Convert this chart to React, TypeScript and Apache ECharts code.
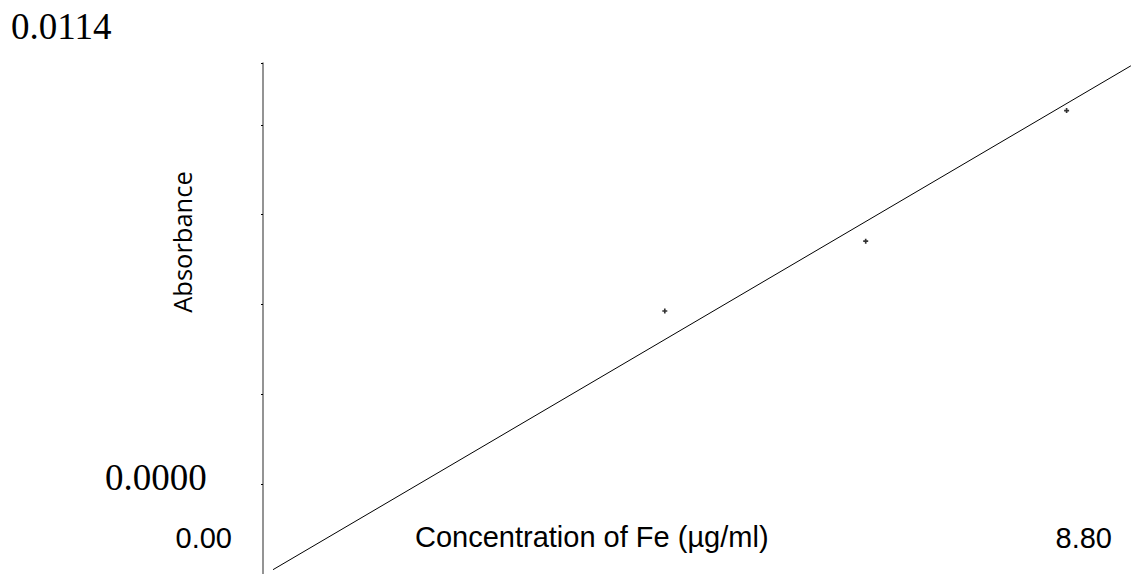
import React, { useEffect, useRef } from "react";
import * as echarts from "echarts";

// Data (concentration of Fe in µg/ml, absorbance)
const concentrations = [4, 6, 8];
const absorbances = [0.004395, 0.006169, 0.009483];
// Calibration line end points as drawn
const fitX = [0.1, 8.64];
const fitY = [-0.00217, 0.01062];
// Axis range labels
const yMaxLabel = "0.0114";
const yMinLabel = "0.0000";
const xMinLabel = "0.00";
const xMaxLabel = "8.80";
const xTitle = "Concentration of Fe (µg/ml)";
const yTitle = "Absorbance";
const yTickInterval = 0.00228;

export default function App() {
  const ref = useRef<HTMLDivElement>(null);
  useEffect(() => {
    document.body.style.margin = "0";
    document.body.style.overflow = "hidden";
    const chart = echarts.init(ref.current!, null, { renderer: "svg" });
    const sans = "'Liberation Sans', Arial, sans-serif";
    const serif = "'Liberation Serif', 'Times New Roman', serif";
    chart.setOption({
      animation: false,
      backgroundColor: "#fff",
      grid: { left: 263, top: 63, right: 0, height: 512 },
      xAxis: {
        type: "value",
        min: 0,
        max: 8.671,
        show: false,
      },
      yAxis: {
        type: "value",
        min: -yTickInterval,
        max: 0.010691,
        interval: yTickInterval,
        axisLine: { show: true, onZero: false, lineStyle: { color: "#707070", width: 1.5 } },
        axisTick: { show: true, length: 2, lineStyle: { color: "#000", width: 1 } },
        axisLabel: { show: false },
        splitLine: { show: false },
      },
      series: [
        {
          type: "line",
          data: fitX.map((x, i) => [x, fitY[i]]),
          symbol: "none",
          clip: false,
          lineStyle: { color: "#000", width: 1 },
          silent: true,
        },
        {
          type: "scatter",
          data: concentrations.map((x, i) => [x, absorbances[i]]),
          symbol: "path://M1 0H2V1H3V2H2V3H1V2H0V1H1Z",
          symbolSize: 5,
          itemStyle: { color: "#000" },
        },
      ],
      graphic: [
        {
          type: "text",
          x: 11,
          y: 26.5,
          style: { text: yMaxLabel, fontSize: 37, fontFamily: serif, fill: "#000", align: "left", verticalAlign: "middle" },
        },
        {
          type: "text",
          x: 105,
          y: 477.5,
          style: { text: yMinLabel, fontSize: 37, fontFamily: serif, fill: "#000", align: "left", verticalAlign: "middle" },
        },
        {
          type: "text",
          x: 232,
          y: 537.8,
          style: { text: xMinLabel, fontSize: 29, fontFamily: sans, fill: "#000", align: "right", verticalAlign: "middle" },
        },
        {
          type: "text",
          x: 1112,
          y: 537.8,
          style: { text: xMaxLabel, fontSize: 29, fontFamily: sans, fill: "#000", align: "right", verticalAlign: "middle" },
        },
        {
          type: "text",
          x: 415,
          y: 536.5,
          style: { text: xTitle, fontSize: 29, fontFamily: sans, fill: "#000", align: "left", verticalAlign: "middle" },
        },
        {
          type: "text",
          x: 181.8,
          y: 242,
          rotation: Math.PI / 2,
          style: { text: yTitle, fontSize: 25.5, fontFamily: "'Open Sans', sans-serif", fill: "#000", align: "center", verticalAlign: "middle" },
        },
      ],
    });
    return () => chart.dispose();
  }, []);
  return <div ref={ref} style={{ width: 1134, height: 574 }} />;
}
